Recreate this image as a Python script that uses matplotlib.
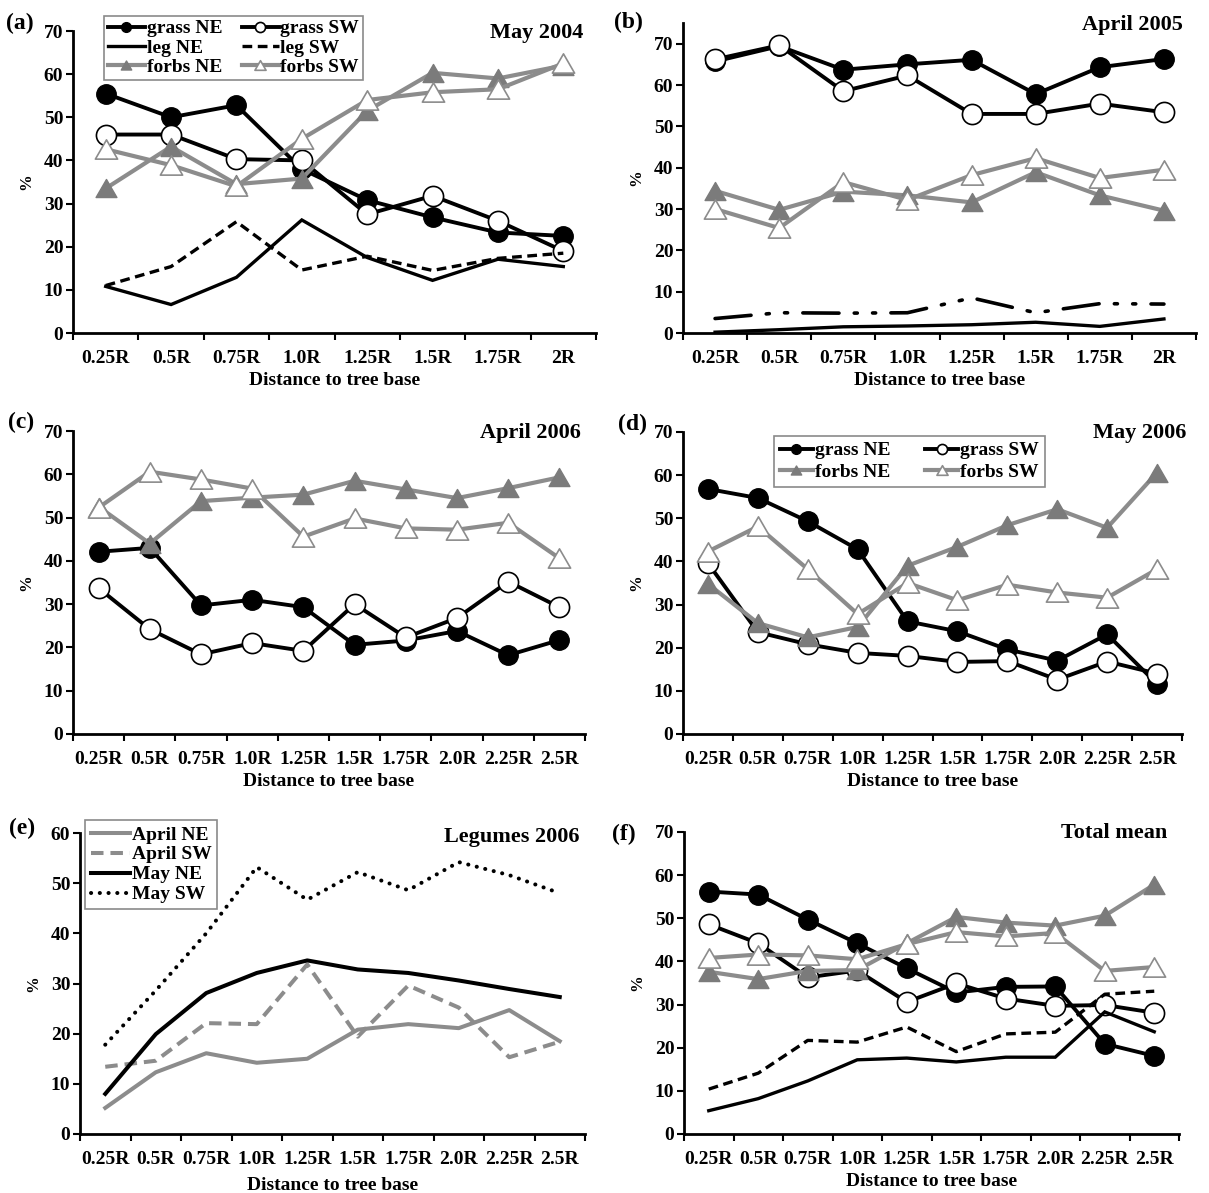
import matplotlib
matplotlib.use("Agg")
import matplotlib.pyplot as plt
from matplotlib.path import Path
import numpy as np

plt.rcParams["font.family"] = ["Liberation Serif", "DejaVu Serif"]
plt.rcParams["font.weight"] = "bold"
plt.rcParams["axes.labelweight"] = "bold"
plt.rcParams["lines.scale_dashes"] = False

# ---------------- data ----------------
cats8 = ["0.25R", "0.5R", "0.75R", "1.0R", "1.25R", "1.5R", "1.75R", "2R"]
cats10 = ["0.25R", "0.5R", "0.75R", "1.0R", "1.25R", "1.5R", "1.75R", "2.0R", "2.25R", "2.5R"]

# (a) May 2004
a_grass_ne = [55.5, 50.0, 52.8, 38.0, 30.8, 26.8, 23.3, 22.5]
a_grass_sw = [46.0, 46.0, 40.3, 40.0, 27.5, 31.8, 26.0, 19.0]
a_leg_ne = [10.8, 6.6, 12.9, 26.2, 17.5, 12.2, 17.1, 15.4]
a_leg_sw = [11.0, 15.4, 25.8, 14.6, 17.8, 14.5, 17.3, 18.5]
a_forbs_ne = [33.5, 43.2, 34.5, 35.8, 51.5, 60.3, 59.0, 62.0]
a_forbs_sw = [42.6, 38.9, 34.0, 45.0, 54.0, 55.8, 56.5, 62.5]

# (b) April 2005
b_grass_ne = [65.7, 69.4, 63.7, 65.0, 66.1, 57.8, 64.3, 66.3]
b_grass_sw = [66.2, 69.6, 58.5, 62.3, 53.0, 53.0, 55.5, 53.4]
b_leg_ne = [0.2, 0.8, 1.5, 1.7, 2.0, 2.6, 1.6, 3.4]
b_leg_sw = [3.5, 4.9, 4.8, 4.9, 8.5, 4.9, 7.1, 7.0]
b_forbs_ne = [34.4, 29.8, 34.2, 33.3, 31.6, 38.9, 33.3, 29.6]
b_forbs_sw = [30.0, 25.4, 36.5, 32.2, 38.2, 42.3, 37.5, 39.5]

# (c) April 2006
c_grass_ne = [42.1, 43.0, 29.7, 31.0, 29.3, 20.6, 21.6, 23.8, 18.2, 21.7]
c_grass_sw = [33.7, 24.2, 18.4, 21.0, 19.2, 30.0, 22.3, 26.8, 35.2, 29.3]
c_forbs_ne = [52.5, 44.0, 53.8, 54.6, 55.3, 58.5, 56.5, 54.5, 56.8, 59.3]
c_forbs_sw = [52.3, 60.6, 58.8, 56.7, 45.6, 49.8, 47.5, 47.2, 48.8, 40.6]

# (d) May 2006
d_grass_ne = [56.8, 54.7, 49.3, 42.8, 26.1, 23.8, 19.6, 17.0, 23.1, 11.6]
d_grass_sw = [39.6, 23.6, 20.8, 18.8, 18.1, 16.7, 16.9, 12.6, 16.8, 14.0]
d_forbs_ne = [34.8, 25.7, 22.4, 24.8, 39.0, 43.4, 48.4, 52.1, 47.8, 60.6]
d_forbs_sw = [42.3, 48.1, 38.2, 27.8, 35.0, 31.0, 34.6, 32.8, 31.6, 38.2]

# (e) Legumes 2006
e_apr_ne = [5.2, 12.3, 16.1, 14.2, 15.0, 20.8, 21.9, 21.1, 24.7, 18.5]
e_apr_sw = [13.4, 14.6, 22.1, 21.9, 33.8, 19.4, 29.6, 25.2, 15.3, 18.4]
e_may_ne = [8.0, 19.9, 28.1, 32.1, 34.6, 32.8, 32.1, 30.6, 28.9, 27.3]
e_may_sw = [17.8, 28.6, 40.0, 53.2, 46.7, 52.2, 48.6, 54.2, 51.6, 48.0]

# (f) Total mean
f_grass_ne = [56.2, 55.5, 49.7, 44.2, 38.4, 32.8, 34.1, 34.2, 20.9, 18.1]
f_grass_sw = [48.6, 44.2, 36.3, 37.9, 30.6, 34.9, 31.4, 29.7, 29.9, 28.1]
f_leg_ne = [5.4, 8.2, 12.3, 17.2, 17.6, 16.7, 17.8, 17.8, 28.3, 23.7]
f_leg_sw = [10.4, 14.1, 21.7, 21.3, 24.8, 19.1, 23.2, 23.6, 32.4, 33.1]
f_forbs_ne = [37.6, 35.9, 37.8, 38.0, 44.2, 50.3, 49.0, 48.3, 50.6, 57.8]
f_forbs_sw = [40.8, 41.6, 41.4, 40.5, 44.0, 46.8, 45.8, 46.6, 37.8, 38.7]

# ---------------- styles ----------------
GRAY = "#8c8c8c"
TRI = "#7b7b7b"
# equilateral-looking triangle marker (wider than tall)
TRIANGLE = Path([(-1, -0.866), (1, -0.866), (0, 0.866), (-1, -0.866)],
                [Path.MOVETO, Path.LINETO, Path.LINETO, Path.CLOSEPOLY])
STY = {
    "grass_ne": dict(color="black", lw=2.8, marker="o", ms=14, mfc="black", mec="black"),
    "grass_sw": dict(color="black", lw=2.8, marker="o", ms=14.5, mfc="white", mec="black", mew=1.2),
    "leg_ne": dict(color="black", lw=2.4),
    "leg_sw": dict(color="black", lw=2.4, dashes=(7, 4)),
    "forbs_ne": dict(color=GRAY, lw=3.0, marker=TRIANGLE, ms=15, mfc=TRI, mec=TRI),
    "forbs_sw": dict(color=GRAY, lw=3.0, marker=TRIANGLE, ms=16, mfc="white", mec=GRAY, mew=1.2),
}

W, H = 1209, 1193
fig = plt.figure(figsize=(W / 100, H / 100), dpi=100)


def make_axes(l, r, t, b):
    return fig.add_axes([l / W, 1 - b / H, (r - l) / W, (b - t) / H])


def style_axes(ax, cats, ymax, ytop, xlabelpad=4):
    n = len(cats)
    ax.set_xlim(-0.5, n - 0.5)
    ax.set_ylim(0, ymax)
    ax.set_xticks(np.arange(n))
    ax.set_xticklabels(cats)
    ax.set_xticks(np.arange(n + 1) - 0.5, minor=True)
    ax.set_yticks(np.arange(0, ytop + 1, 10))
    ax.tick_params(axis="x", which="major", length=0, pad=12, labelsize=14)
    ax.tick_params(axis="x", which="minor", length=5, width=1.5, direction="out")
    ax.tick_params(axis="y", length=5, width=1.5, direction="out", pad=2, labelsize=14)
    for s in ("top", "right"):
        ax.spines[s].set_visible(False)
    for s in ("left", "bottom"):
        ax.spines[s].set_linewidth(2)
    ax.set_xlabel("Distance to tree base", fontsize=14, labelpad=xlabelpad)
    ax.set_ylabel("%", fontsize=12, labelpad=7)


def draw(ax, y, key, label=None):
    x = np.arange(len(y))
    return ax.plot(x, y, label=label, solid_joinstyle="miter", **STY[key])[0]


def fig_text(x, y, s, size, ha):
    fig.text(x / W, 1 - y / H, s, fontsize=size, fontweight="bold", ha=ha, va="center")


LEG_KW = dict(frameon=True, fancybox=False, framealpha=1, edgecolor="#8a8a8a",
              borderaxespad=0, prop=dict(size=14, weight="bold"))

# (a)
ax = make_axes(73, 596, 31, 333)
h = {}
h["grass NE"] = draw(ax, a_grass_ne, "grass_ne", "grass NE")
h["grass SW"] = draw(ax, a_grass_sw, "grass_sw", "grass SW")
h["leg NE"] = draw(ax, a_leg_ne, "leg_ne", "leg NE")
h["leg SW"] = draw(ax, a_leg_sw, "leg_sw", "leg SW")
h["forbs NE"] = draw(ax, a_forbs_ne, "forbs_ne", "forbs NE")
h["forbs SW"] = draw(ax, a_forbs_sw, "forbs_sw", "forbs SW")
style_axes(ax, cats8, 70, 70)
order = ["grass NE", "leg NE", "forbs NE", "grass SW", "leg SW", "forbs SW"]
leg = ax.legend([h[k] for k in order], order, ncol=2, loc="upper left",
                bbox_to_anchor=(0.059, 1.05), handlelength=1.9, handletextpad=0.1,
                columnspacing=1.0, labelspacing=0.08, borderpad=0.2, markerscale=0.5,
                **LEG_KW)
leg.get_frame().set_linewidth(1.2)

# (b)
ax = make_axes(683, 1196, 23, 333)
draw(ax, b_grass_ne, "grass_ne")
draw(ax, b_grass_sw, "grass_sw")
draw(ax, b_leg_ne, "leg_ne")
ax.plot(np.arange(8), b_leg_sw, color="black", lw=2.6,
        dashes=(26, 11, 2.2, 11, 2.2, 11), dash_capstyle="round")
draw(ax, b_forbs_ne, "forbs_ne")
draw(ax, b_forbs_sw, "forbs_sw")
style_axes(ax, cats8, 75, 70)

# (c)
ax = make_axes(73, 585, 431, 734)
draw(ax, c_grass_ne, "grass_ne")
draw(ax, c_grass_sw, "grass_sw")
draw(ax, c_forbs_ne, "forbs_ne")
draw(ax, c_forbs_sw, "forbs_sw")
style_axes(ax, cats10, 70, 70)

# (d)
ax = make_axes(683, 1182, 432, 734)
hd = {}
hd["grass NE"] = draw(ax, d_grass_ne, "grass_ne")
hd["grass SW"] = draw(ax, d_grass_sw, "grass_sw")
hd["forbs NE"] = draw(ax, d_forbs_ne, "forbs_ne")
hd["forbs SW"] = draw(ax, d_forbs_sw, "forbs_sw")
style_axes(ax, cats10, 70, 70)
order = ["grass NE", "forbs NE", "grass SW", "forbs SW"]
leg = ax.legend([hd[k] for k in order], order, ncol=2, loc="upper left",
                bbox_to_anchor=(0.182, 0.987), handlelength=1.7, handletextpad=0.1,
                columnspacing=1.8, labelspacing=0.2, borderpad=0.3, markerscale=0.5,
                **LEG_KW)
leg.get_frame().set_linewidth(1.2)

# (e)
ax = make_axes(80, 585, 833, 1134)
x10 = np.arange(10)
ax.plot(x10, e_apr_ne, color=GRAY, lw=2.9, label="April NE")
ax.plot(x10, e_apr_sw, color=GRAY, lw=2.9, dashes=(9, 5), label="April SW")
ax.plot(x10, e_may_ne, color="black", lw=2.9, label="May NE")
ax.plot(x10, e_may_sw, color="black", lw=2.9, dashes=(0.1, 6.2), dash_capstyle="round",
        label="May SW")
style_axes(ax, cats10, 60, 60, xlabelpad=7)
leg = ax.legend(loc="upper left", bbox_to_anchor=(0.01, 1.043), handlelength=2.0,
                handletextpad=0.1, labelspacing=0.12, borderpad=0.3, **LEG_KW)
leg.get_frame().set_linewidth(1.2)

# (f)
ax = make_axes(684, 1179, 832, 1134)
draw(ax, f_grass_ne, "grass_ne")
draw(ax, f_grass_sw, "grass_sw")
draw(ax, f_leg_ne, "leg_ne")
draw(ax, f_leg_sw, "leg_sw")
draw(ax, f_forbs_ne, "forbs_ne")
draw(ax, f_forbs_sw, "forbs_sw")
style_axes(ax, cats10, 70, 70)

# panel letters and titles
for x, y, s in [(6, 23, "(a)"), (614, 22, "(b)"), (8, 422, "(c)"),
                (618, 424, "(d)"), (9, 828, "(e)"), (612, 834, "(f)")]:
    fig_text(x, y, s, 17, "left")
for x, y, s in [(583, 33, "May 2004"), (1183, 25, "April 2005"), (581, 433, "April 2006"),
                (1186, 433, "May 2006"), (579, 837, "Legumes 2006"), (1167, 833, "Total mean")]:
    fig_text(x, y, s, 16, "right")

fig.savefig("out.png", dpi=100)
